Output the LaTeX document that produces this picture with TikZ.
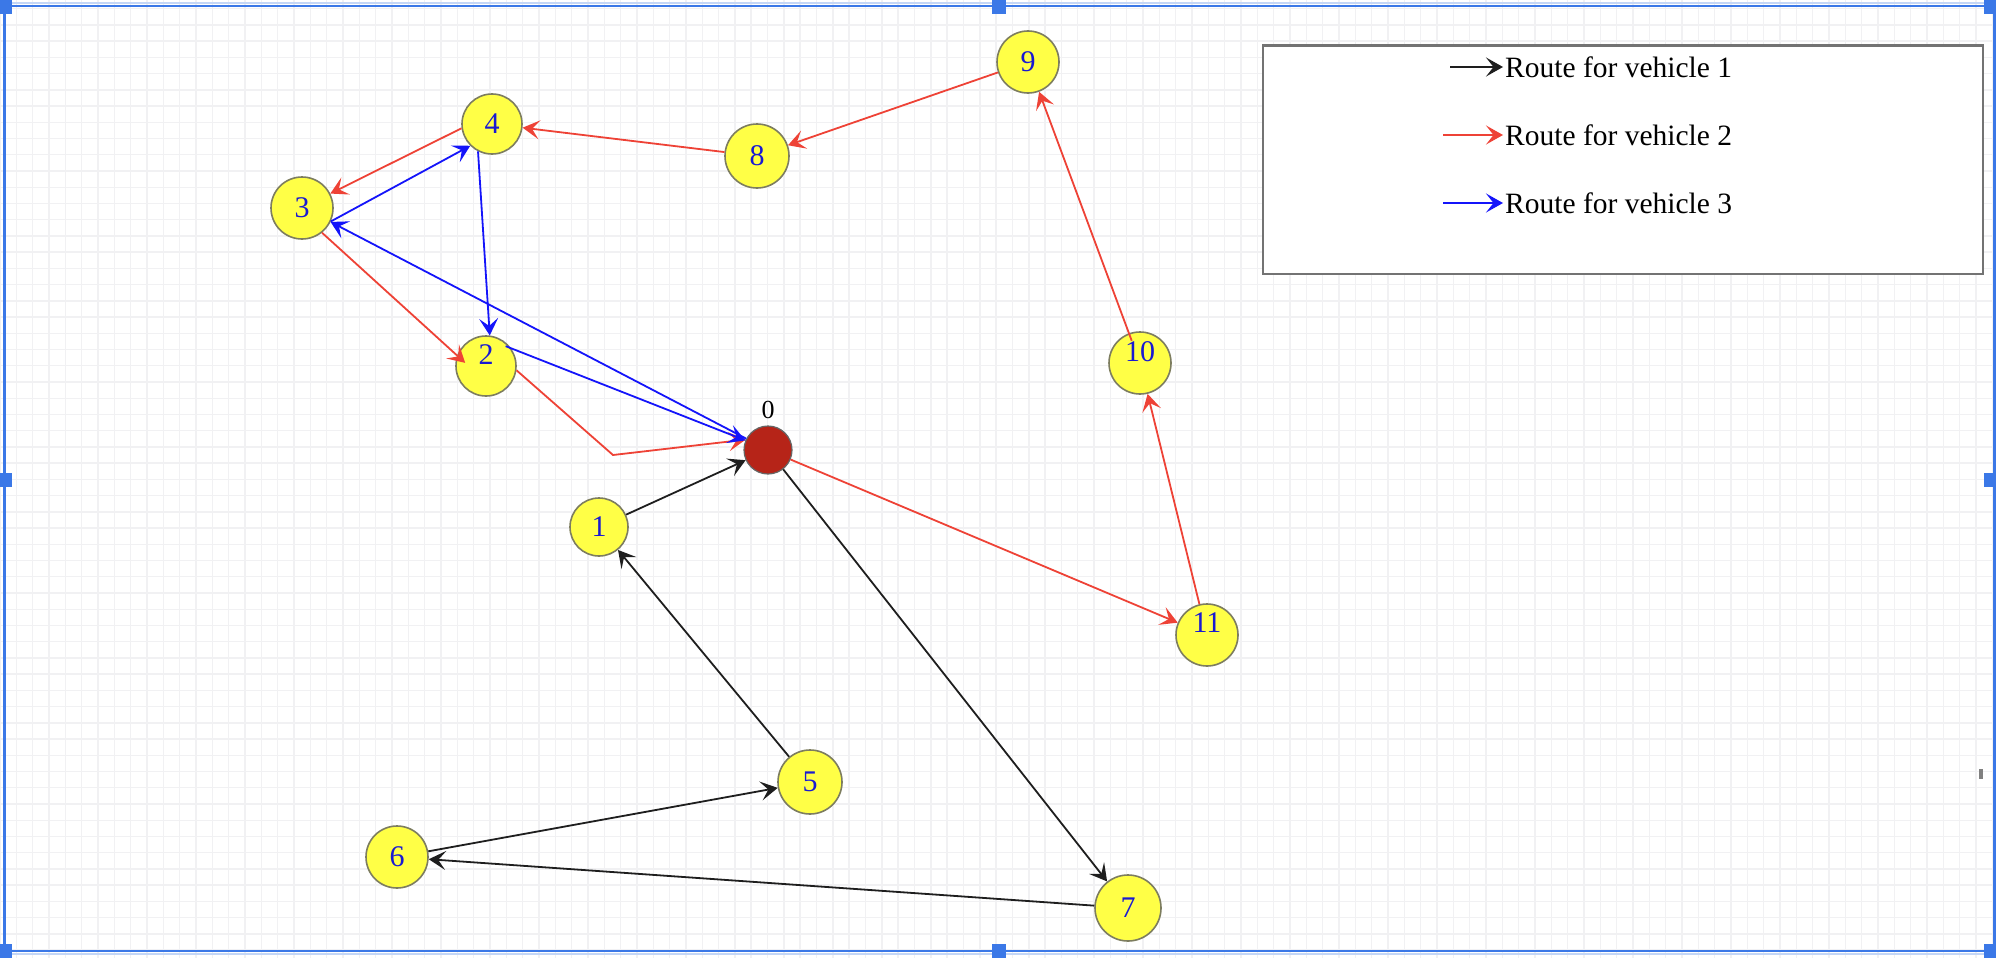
\documentclass[tikz,border=0pt]{standalone}
\usepackage{fontspec}
\setmainfont{Liberation Serif}
\usetikzlibrary{arrows.meta}
\definecolor{gridc}{RGB}{241,241,243}
\definecolor{selblue}{RGB}{59,120,231}
\definecolor{selblue2}{RGB}{196,214,246}
\definecolor{nodey}{RGB}{255,255,70}
\definecolor{nodeb}{RGB}{125,125,95}
\definecolor{depot}{RGB}{182,36,24}
\definecolor{lblblue}{RGB}{25,25,210}
\definecolor{rred}{RGB}{238,66,54}
\definecolor{rblue}{RGB}{20,20,250}
\definecolor{rblack}{RGB}{30,30,30}
\begin{document}
\begin{tikzpicture}[x=1pt,y=-1pt,
  stop/.style={circle,draw=nodeb,line width=1.6pt,fill=nodey,inner sep=0pt,text=lblblue,font=\fontsize{30}{30}\selectfont},
  lbl/.style={text=lblblue,font=\fontsize{30}{30}\selectfont,inner sep=0pt},
  depotnode/.style={circle,draw=black!60,line width=1.2pt,fill=depot,inner sep=0pt,minimum size=48pt},
  route/.style={line width=1.8pt,-{Stealth[length=17pt,width=19pt,inset=7.5pt]}},
  vone/.style={route,rblack},
  vtwo/.style={route,rred},
  vthree/.style={route,rblue},
  legtext/.style={font=\fontsize{29.5}{30}\selectfont,inner sep=2pt,anchor=west},
  handle/.style={fill=selblue,minimum size=14pt,inner sep=0pt},
  ]
\useasboundingbox (0,0) rectangle (1996,958);
\fill[white] (0,0) rectangle (1996,958);
\foreach \i in {0,...,122} \draw[gridc,line width=1.4pt] (\i*16.33,0) -- (\i*16.33,958);
\foreach \j in {0,...,58} \draw[gridc,line width=1.4pt] (0,8.7+\j*16.23) -- (1996,8.7+\j*16.23);

% nodes
\node[depotnode,label={[font=\fontsize{26}{26}\selectfont,inner sep=1pt,label distance=5pt]above:0}] (n0) at (768,450) {};
\node[stop,minimum size=58pt] (n1) at (599,527) {1};
\node[stop,minimum size=60pt,label={[lbl,yshift=11pt]center:2}] (n2) at (486,366) {};
\node[stop,minimum size=62pt] (n3) at (302,208) {3};
\node[stop,minimum size=60pt] (n4) at (492,124) {4};
\node[stop,minimum size=64pt] (n5) at (810,782) {5};
\node[stop,minimum size=62pt] (n6) at (397,857) {6};
\node[stop,minimum size=66pt] (n7) at (1128,908) {7};
\node[stop,minimum size=64pt] (n8) at (757,156) {8};
\node[stop,minimum size=62pt] (n9) at (1028,62) {9};
\node[stop,minimum size=62pt,label={[lbl,yshift=11pt]center:10}] (n10) at (1140,363) {};
\node[stop,minimum size=62pt,label={[lbl,yshift=12pt]center:11}] (n11) at (1207,635) {};

% vehicle 1
\draw[vone] (n0) -- (n7);
\draw[vone] (n7) -- (n6);
\draw[vone] (n6) -- (n5);
\draw[vone] (n5) -- (n1);
\draw[vone] (n1) -- (n0);
% vehicle 2
\coordinate (bend) at (613,455);
\draw[vtwo] (n0) -- (n11);
\draw[vtwo] (n11) -- (n10);
\draw[vtwo,shorten <=-8pt] (n10) -- (n9);
\draw[vtwo] (n9) -- (n8);
\draw[vtwo] (n8) -- (n4);
\draw[vtwo] (n4.188) -- (n3.27);
\draw[vtwo,shorten >=-11pt] (n3.-51) -- (n2.160);
\draw[vtwo] (n2.-8) -- (bend) -- (n0.155);
% vehicle 3
\draw[vthree] (n0) -- (n3.-26);
\draw[vthree] (n3.-25) -- (n4.225);
\draw[vthree] (n4.243) -- (n2.83);
\draw[vthree,shorten <=-6pt] (n2.35) -- (n0.157);

% legend
\node[draw=black!55,line width=2.5pt,fill=white,minimum width=720pt,minimum height=228pt,anchor=north west,inner sep=0pt] (leg) at (1261.5,44.5) {};
\node[legtext] (t1) at (1503,67) {Route for vehicle 1};
\node[legtext] (t2) at (1503,135) {Route for vehicle 2};
\node[legtext] (t3) at (1503,203) {Route for vehicle 3};
\coordinate (a1) at (1450,67);
\coordinate (a2) at (1443,135);
\coordinate (a3) at (1443,203);
\draw[vone] (a1) -- (t1.west);
\draw[vtwo] (a2) -- (t2.west);
\draw[vthree] (a3) -- (t3.west);

% selection frame
\draw[selblue2,line width=2pt] (6,3) -- (1990,3);
\draw[selblue2,line width=2pt] (6,953.5) -- (1990,953.5);
\draw[selblue,line width=2.2pt] (4.5,6) -- (1994.5,6);
\draw[selblue,line width=2.2pt] (4.5,951) -- (1994.5,951);
\draw[selblue,line width=2.2pt] (4.5,6) -- (4.5,951);
\draw[selblue,line width=2.2pt] (1994.5,6) -- (1994.5,951);
\foreach \hx in {5,999,1991} \foreach \hy in {7,951} \node[handle] at (\hx,\hy) {};
\node[handle] at (5,480) {};
\node[handle] at (1991,480) {};
\fill[gray] (1979,769) rectangle (1983,779);
\end{tikzpicture}
\end{document}
